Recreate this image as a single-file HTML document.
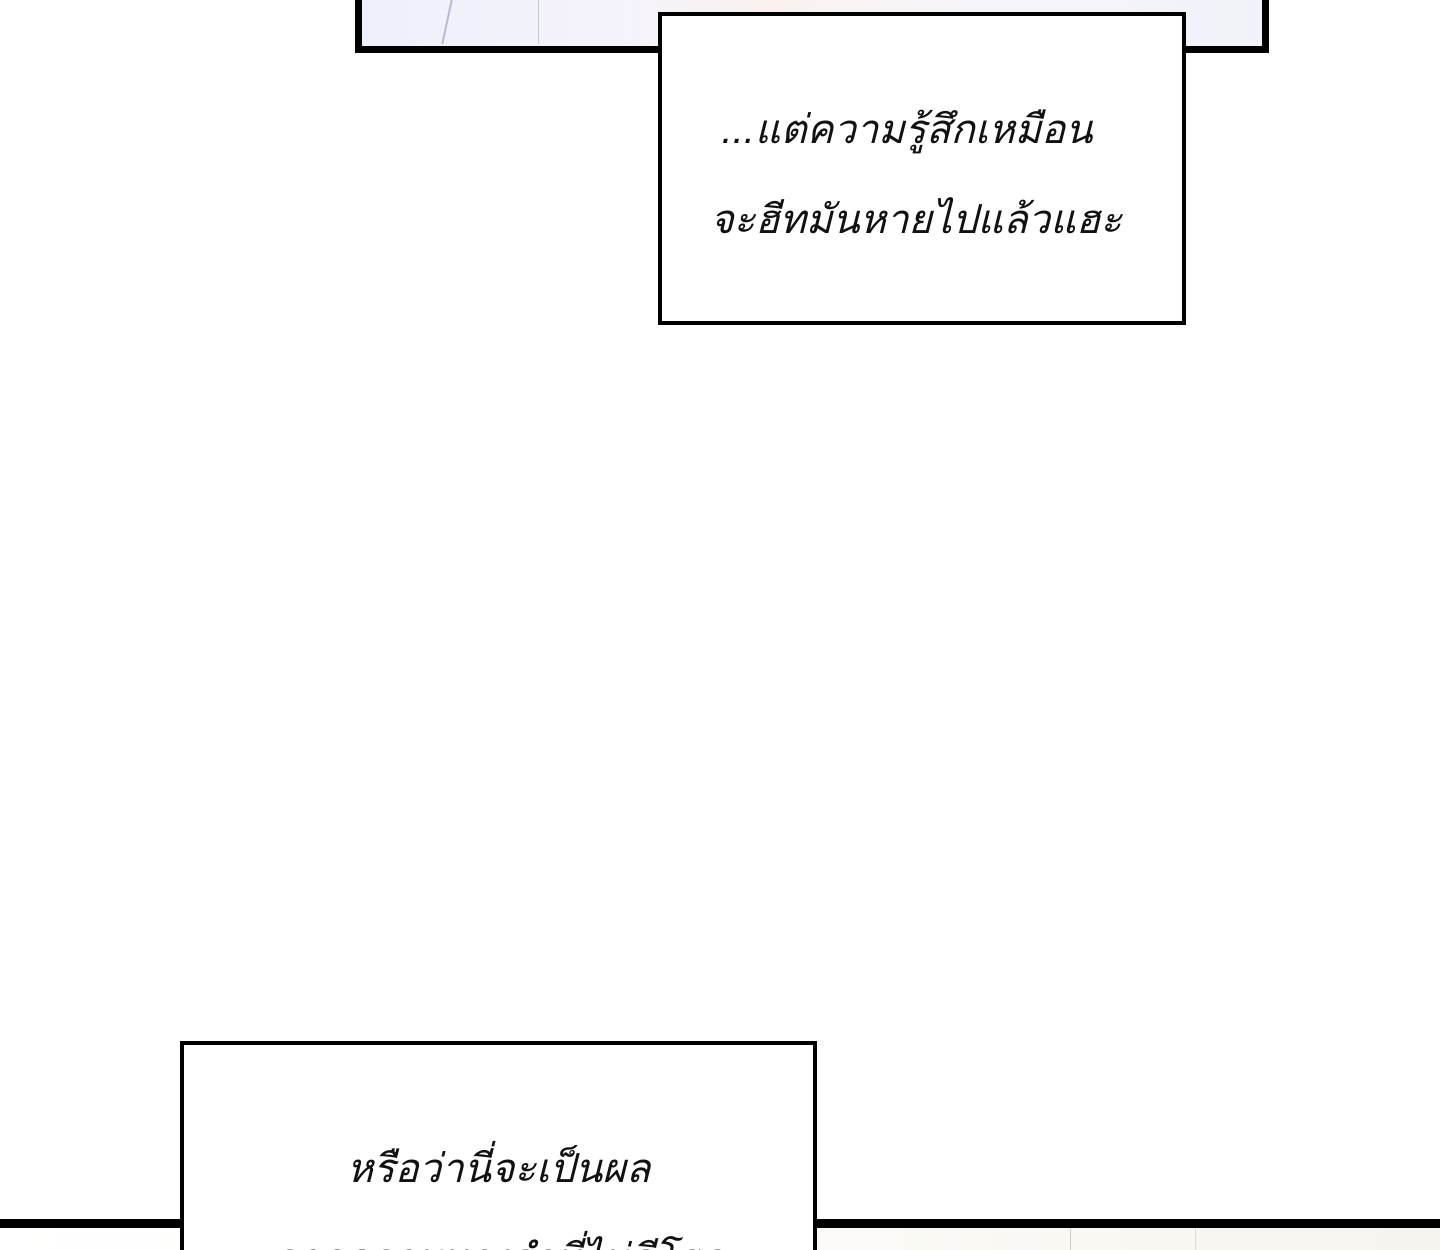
<!DOCTYPE html>
<html><head><meta charset="utf-8"><style>
html,body{margin:0;padding:0;}
html{height:1250px;overflow:hidden;}
body{width:1440px;height:1250px;position:relative;overflow:hidden;background:#fff;font-family:"Liberation Sans","DejaVu Sans",sans-serif;}
.abs{position:absolute;box-sizing:border-box;}
.txt{font-style:italic;font-size:40px;color:#111;text-align:center;white-space:nowrap;line-height:90px;}
</style></head><body>
<div class="abs" style="left:355px;top:-10px;width:914px;height:63px;border:7px solid #000;border-top:none;background:linear-gradient(90deg,#eef0fb,#f5f3fb 30%,#fbf2ef 45%,#f6f5fb 70%,#f1f2f9);"></div>
<div class="abs" style="left:446px;top:0;width:2px;height:44px;background:#b8b8d0;transform:skewX(-12deg)"></div>
<div class="abs" style="left:538px;top:0;width:1px;height:44px;background:#c8c8d8;"></div>
<div class="abs" style="left:658px;top:12px;width:528px;height:313px;border:4px solid #000;background:#fff;"></div>
<div class="abs txt" style="left:652px;top:85px;width:510px;">...แต่ความรู้สึกเหมือน</div>
<div class="abs txt" style="left:652px;top:175px;width:528px;">จะฮีทมันหายไปแล้วแฮะ</div>
<div class="abs" style="left:0;top:1219px;width:1440px;height:31px;border-top:9px solid #000;background:linear-gradient(90deg,#fff,#fbfaf6 60%,#f6f4ee);"></div>
<div class="abs" style="left:1070px;top:1228px;width:1px;height:22px;background:#d0d0d0;"></div>
<div class="abs" style="left:1195px;top:1228px;width:1px;height:22px;background:#d8d8d8;"></div>
<div class="abs" style="left:180px;top:1041px;width:637px;height:209px;border:4px solid #000;border-bottom:none;background:#fff;overflow:hidden;">
<div class="abs txt" style="left:0;top:79px;width:629px;">หรือว่านี่จะเป็นผล</div>
<div class="abs txt" style="left:0;top:169px;width:629px;">จากความทรงจำที่ไม่ดีโฮก</div>
</div>
</body></html>
